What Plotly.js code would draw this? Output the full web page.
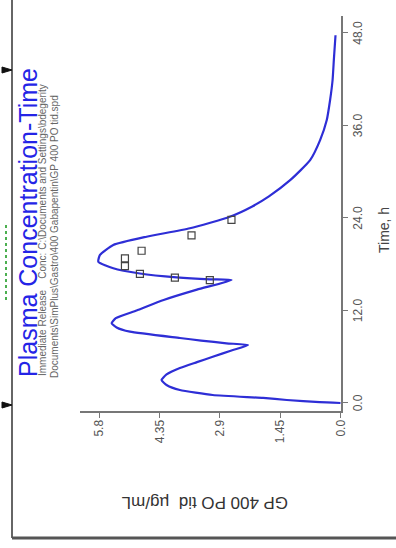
<!DOCTYPE html>
<html><head><meta charset="utf-8">
<script src="https://cdn.plot.ly/plotly-3.0.1.min.js"></script>
<style>
html,body{margin:0;padding:0;background:#fff;overflow:hidden;width:396px;height:548px;}
#wrap{position:absolute;left:0;top:0;width:548px;height:396px;transform-origin:0 0;transform:translate(0,548px) rotate(-90deg);}
#chart{width:548px;height:396px;}
</style></head>
<body><div id="wrap"><div id="chart"></div></div>
<script>
// Simulated plasma concentration curve (time in h, conc in µg/mL)
const timeH = [0, 0.1, 0.39, 0.65, 1.04, 1.69, 2.3, 2.98, 3.7, 4.54, 5.3, 6.0, 6.8, 7.52, 7.74, 8.1, 8.43, 9.25, 9.8, 10.34, 11.0, 12.0, 13.36, 14.7, 15.95, 16.04, 16.3, 16.8, 17.47, 18.33, 19.2, 20.5, 21.57, 22.66, 24.16, 25.5, 26.8, 28.9, 31.5, 34.1, 36.7, 39.3, 41.9, 44.5, 47.7];
const concSim = [0, 0.5, 1.29, 1.86, 3.07, 3.86, 4.17, 4.30, 4.18, 3.86, 3.45, 3.07, 2.62, 2.22, 2.74, 3.35, 3.86, 5.06, 5.38, 5.50, 5.40, 4.90, 4.25, 3.45, 2.62, 3.14, 3.94, 4.82, 5.46, 5.82, 5.78, 5.46, 4.66, 3.62, 2.66, 2.12, 1.72, 1.21, 0.73, 0.49, 0.33, 0.25, 0.19, 0.16, 0.12];
// Observed data
const obsTime = [15.95, 16.25, 16.75, 17.75, 18.75, 19.75, 21.75, 23.75];
const obsConc = [3.14, 3.98, 4.82, 5.18, 5.18, 4.78, 3.58, 2.62];
// Ticks
const timeTicks = [0, 12, 24, 36, 48];
const timeTickLabels = ['0.0', '12.0', '24.0', '36.0', '48.0'];
const concTicks = [0, 1.45, 2.9, 4.35, 5.8];
const concTickLabels = ['0.0', '1.45', '2.9', '4.35', '5.8'];

const W = 548, H = 396, L = 137, R = 16, T = 80, B = 55;
const px = X => (X - L) / (W - L - R);
const py = Y => (H - B - Y) / (H - T - B);
const FONT = 'Liberation Sans, Arial, sans-serif';

const traces = [
  {x: timeH, y: concSim, type: 'scatter', mode: 'lines',
   line: {color: '#2e2ed6', width: 2.2, shape: 'spline', smoothing: 0.5}, hoverinfo: 'skip'},
  {x: obsTime, y: obsConc, type: 'scatter', mode: 'markers',
   marker: {symbol: 'square-open', size: 7, color: '#444', line: {width: 1.2, color: '#444'}}, hoverinfo: 'skip'}
];

const axisCommon = {showgrid: false, zeroline: false, showline: true, linecolor: '#777', linewidth: 1.5,
  ticks: 'outside', ticklen: 5, tickcolor: '#777', tickwidth: 1, tickfont: {family: FONT, size: 12, color: '#555'}, fixedrange: true};

const layout = {
  width: W, height: H, margin: {l: L, r: R, t: T, b: B},
  paper_bgcolor: '#fff', plot_bgcolor: '#fff', showlegend: false,
  title: {text: 'Plasma Concentration-Time', font: {family: FONT, size: 25, color: '#2424e6'},
    x: 171 / W, xref: 'container', xanchor: 'left', y: 1 - 28.5 / H, yref: 'container', yanchor: 'middle'},
  xaxis: Object.assign({}, axisCommon, {range: [-1.04, 50.2], tickmode: 'array', tickvals: timeTicks, ticktext: timeTickLabels}),
  yaxis: Object.assign({}, axisCommon, {range: [-0.012, 6.26], tickmode: 'array', tickvals: concTicks, ticktext: concTickLabels}),
  annotations: [
    {text: 'Immediate Release\u00a0\u00a0\u00a0 Conc: C:\\Documents and Settings\\bdegerity', xref: 'paper', yref: 'paper',
     x: px(170), y: py(43), xanchor: 'left', yanchor: 'middle', showarrow: false, font: {family: FONT, size: 10, color: '#666'}},
    {text: 'Documents\\SimPlus\\Gastro\\400 Gabapentin\\GP 400 PO tid.spd', xref: 'paper', yref: 'paper',
     x: px(168), y: py(54), xanchor: 'left', yanchor: 'middle', showarrow: false, font: {family: FONT, size: 10, color: '#666'}},
    {text: 'GP 400 PO tid\u00a0 µg/mL', xref: 'paper', yref: 'paper', x: px(45), y: py(205), textangle: -90,
     xanchor: 'center', yanchor: 'middle', showarrow: false, font: {family: FONT, size: 17, color: '#333'}},
    {text: 'Time, h', xref: 'paper', yref: 'paper', x: px(318), y: py(384),
     xanchor: 'center', yanchor: 'middle', showarrow: false, font: {family: FONT, size: 14, color: '#444'}}
  ],
  shapes: [
    {type: 'line', xref: 'paper', yref: 'paper', x0: px(10), x1: px(548), y0: py(12), y1: py(12), line: {color: '#333', width: 1.5}},
    {type: 'line', xref: 'paper', yref: 'paper', x0: px(10), x1: px(10), y0: py(12), y1: py(396), line: {color: '#555', width: 3}},
    {type: 'path', xref: 'paper', yref: 'paper', path: `M ${px(475)} ${py(2)} L ${px(481)} ${py(2)} L ${px(478)} ${py(12)} Z`, fillcolor: '#111', line: {color: '#111', width: 1}},
    {type: 'path', xref: 'paper', yref: 'paper', path: `M ${px(140)} ${py(2)} L ${px(146)} ${py(2)} L ${px(143)} ${py(12)} Z`, fillcolor: '#111', line: {color: '#111', width: 1}},
    {type: 'line', xref: 'paper', yref: 'paper', x0: px(248), x1: px(323), y0: py(6), y1: py(6), line: {color: '#4caf50', width: 2, dash: 'dot'}}
  ]
};

Plotly.newPlot('chart', traces, layout, {displayModeBar: false, staticPlot: true});
</script>
</body></html>
